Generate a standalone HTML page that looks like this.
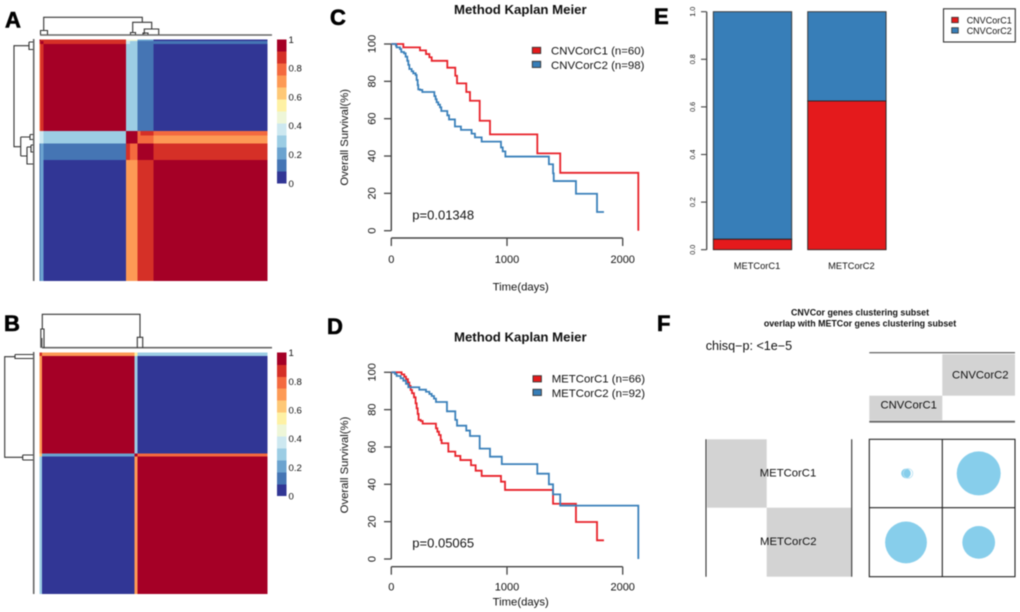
<!DOCTYPE html>
<html lang="en">
<head>
<meta charset="utf-8">
<title>Clustering and Kaplan Meier figure</title>
<style>
html,body{margin:0;padding:0;background:#fff;width:1020px;height:612px;overflow:hidden}
svg{display:block;font-family:"Liberation Sans",sans-serif;filter:blur(0.4px)}
text{fill:#111}
.panel{font-size:22px;font-weight:bold;fill:#000;stroke:#000;stroke-width:.6px}
.dend{fill:none;stroke:#333;stroke-width:1.1}
.base{fill:none;stroke:#666;stroke-width:1.6}
</style>
</head>
<body>
<svg id="fig" xmlns="http://www.w3.org/2000/svg" width="1020" height="612" viewBox="0 0 1020 612">
  <text class="panel" x="5" y="27.5">A</text>
  <text class="panel" x="4" y="331">B</text>
  <text class="panel" x="330" y="25">C</text>
  <text class="panel" x="327" y="334">D</text>
  <text class="panel" x="654" y="24">E</text>
  <text class="panel" x="657" y="331">F</text>

  <g id="heat-a"></g>
  <g id="heat-b"></g>
  <g id="bar-a"></g>
  <g id="bar-b"></g>

  <g>
    <path class="base" d="M40 35H272"/>
    <path class="dend" d="M43.7 31V17.3H142.3V22.3M132.7 33V22.3H151.7V29M144.3 34V29H158.7V34.5M40.5 34.5V30.5H47.5V34.5M130.5 34.5V32.5H135.5V34.5M143 34.5V33H148V34.5"/>
  </g>
  <g>
    <path class="base" d="M33.7 39V281"/>
    <path class="dend" d="M29 45.7H14V146.7H20.7M29 42V49.5H33M29 42H33M20.7 137V156M20.7 137H30M30 134.5V139.5H33M30 134.5H33M20.7 156H27M27 147V164H33M27 147H31M31 145V152H33M31 145H33"/>
  </g>
  <g>
    <path class="base" d="M42 347.7H272"/>
    <path class="dend" d="M42.3 329V314.3H140V337.3M40.8 347.7V329H44V347.7M137.3 347.7V337.3H142.7V347.7"/>
    <path d="M40.5 338H42.5V347.7H40.5Z" fill="#555"/>
  </g>
  <g>
    <path class="base" d="M33.7 352V594"/>
    <path class="dend" d="M15 356.7H4.7V457.3H22.7M15 354.5H33M15 354.5V358.5H33M22.7 455V460M22.7 455H33M22.7 460H33"/>
  </g>

  <g id="km-c"></g>
  <g id="km-d"></g>

  <text x="520.3" y="14" text-anchor="middle" font-size="13.2" font-weight="bold">Method Kaplan Meier</text>
  <text x="520.3" y="341.5" text-anchor="middle" font-size="13.2" font-weight="bold">Method Kaplan Meier</text>
  <text x="520.7" y="290.5" text-anchor="middle" font-size="11.3">Time(days)</text>
  <text x="520.7" y="605.5" text-anchor="middle" font-size="11.3">Time(days)</text>
  <text transform="translate(348 137.3) rotate(-90)" text-anchor="middle" font-size="11.3">Overall Survival(%)</text>
  <text transform="translate(348 465) rotate(-90)" text-anchor="middle" font-size="11.3">Overall Survival(%)</text>
  <text x="412.3" y="219.5" font-size="13">p=0.01348</text>
  <text x="412.3" y="547.5" font-size="13">p=0.05065</text>

  <g>
    <rect x="532.3" y="47.3" width="8.4" height="6.2" fill="#e41a1c" stroke="#333" stroke-width=".9"/>
    <rect x="532.3" y="61.3" width="8.4" height="6.2" fill="#377eb8" stroke="#333" stroke-width=".9"/>
    <text x="551" y="54.7" font-size="11.4">CNVCorC1 (n=60)</text>
    <text x="551" y="69" font-size="11.4">CNVCorC2 (n=98)</text>
  </g>
  <g>
    <rect x="533" y="375.7" width="8.4" height="6.2" fill="#e41a1c" stroke="#333" stroke-width=".9"/>
    <rect x="533" y="389.3" width="8.4" height="6.2" fill="#377eb8" stroke="#333" stroke-width=".9"/>
    <text x="551.7" y="382.5" font-size="11.4">METCorC1 (n=66)</text>
    <text x="551.7" y="396.8" font-size="11.4">METCorC2 (n=92)</text>
  </g>

  <g id="stack"></g>
  <g>
    <rect x="943.5" y="8.8" width="71.8" height="33.2" fill="#fff" stroke="#333" stroke-width="1.1"/>
    <rect x="951.7" y="17.3" width="6.6" height="5.4" fill="#e41a1c" stroke="#333" stroke-width=".8"/>
    <rect x="951.7" y="27.7" width="6.6" height="5.4" fill="#377eb8" stroke="#333" stroke-width=".8"/>
    <text x="966.7" y="23.5" font-size="9">CNVCorC1</text>
    <text x="966.7" y="34" font-size="9">CNVCorC2</text>
  </g>

  <text x="860" y="315.5" text-anchor="middle" font-size="8.9" font-weight="bold">CNVCor genes clustering subset</text>
  <text x="860" y="326.5" text-anchor="middle" font-size="8.9" font-weight="bold">overlap with METCor genes clustering subset</text>
  <text x="705.7" y="350" font-size="12.6">chisq−p: &lt;1e−5</text>

  <g>
    <rect x="942.3" y="354.3" width="72.7" height="41.4" fill="#d3d3d3"/>
    <rect x="869.3" y="395.7" width="73" height="24.5" fill="#d3d3d3"/>
    <path d="M869.3 352.7H1015" stroke="#555" stroke-width="1.1" fill="none"/>
    <path d="M869.3 421.7H1015" stroke="#666" stroke-width="1.8" fill="none"/>
    <text x="980.3" y="378.3" text-anchor="middle" font-size="11.3">CNVCorC2</text>
    <text x="908.7" y="408.7" text-anchor="middle" font-size="11.3">CNVCorC1</text>
  </g>
  <g>
    <rect x="707" y="439.3" width="59.7" height="68.4" fill="#d3d3d3"/>
    <rect x="766.7" y="507.7" width="84.5" height="69" fill="#d3d3d3"/>
    <path d="M706 439.3V576.7" stroke="#333" stroke-width="1.1" fill="none"/>
    <path d="M851.7 439.3V576.7" stroke="#333" stroke-width="1.1" fill="none"/>
    <text x="788" y="476.3" text-anchor="middle" font-size="11.3">METCorC1</text>
    <text x="788.3" y="545" text-anchor="middle" font-size="11.3">METCorC2</text>
  </g>
  <g id="overlap"></g>
</svg>
<script>
// ---------- data ----------
var palette = ['#313695','#4575b4','#6ba3cf','#9ccde4','#cde8f0','#eef6d8','#fef1a4','#fec876','#fd9a55','#f46a3f','#d53027','#a50026'];
var colorbarLabels = ['0','0.2','0.4','0.6','0.8','1'];

var heatAGroups = [1,2,57,3,5,2,9,79];
var heatAValues = [
  [.96,.88,.88,.45,.42,.22,.22,.04],
  [.88,.96,.88,.38,.30,.13,.13,.13],
  [.80,.88,.96,.30,.30,.13,.13,.04],
  [.38,.38,.30,.96,.96,.80,.88,.78],
  [.40,.34,.30,.96,.96,.80,.80,.70],
  [.13,.22,.13,.88,.80,.96,.96,.88],
  [.13,.22,.13,.88,.80,.96,.96,.88],
  [.13,.22,.04,.70,.70,.88,.88,.96]
];
var heatBGroups = [2,64,2,90];
var heatBValues = [
  [.88,.70,.55,.30],
  [.70,.96,.25,.04],
  [.60,.20,.92,.78],
  [.30,.04,.70,.96]
];

var kmXTicks = [0,1000,2000];
var kmYTicks = [0,20,40,60,80,100];

var cSeries1Days = [0,104,248,300,329,349,484,553,568,648,680,764,853,1262,1460,2135];
var cSeries1Surv = [100,98.2,96.6,94.6,92.9,91,87.3,83,78.9,74.3,69.6,58.9,51.6,41.4,31,0];
var cSeries2Days = [0,40,46,75,86,110,124,138,147,156,176,190,210,219,228,233,248,268,372,383,392,406,421,432,484,499,550,602,694,723,781,948,963,986,1362,1398,1404,1596,1778,1838];
var cSeries2Surv = [100,99.1,98.2,97.3,95.7,95,93.2,91,88.8,86.6,85.4,84.3,83.4,80.7,78,75.7,75.4,74.3,72.1,70.4,68.8,67.5,66.1,64.1,61.8,59.6,55.8,54,52,50,47.7,44.6,42.5,39.7,35.6,30.7,26.6,19.8,10,10];

var dSeries1Days = [0,89,112,127,144,156,167,179,196,210,219,228,236,254,271,386,398,412,427,435,493,553,597,689,729,781,948,983,1398,1596,1778,1838];
var dSeries1Surv = [100,98.9,97.7,96.3,94.5,92.7,90.5,88.8,86.6,83.4,80.7,77.7,74.5,73.9,72.5,70,68.2,66.4,63.7,62,57.5,55.2,53,50.2,47.3,44.5,41.4,37,29.6,19.8,10,10];
var dSeries2Days = [0,32,46,81,104,127,147,242,300,329,349,369,386,481,553,568,648,680,764,853,955,1262,1362,1398,1460,2135];
var dSeries2Surv = [100,99.1,98,96.8,95.5,93.8,92,90.7,89.6,88.4,87.3,85.9,84.1,79.1,74.5,71.4,68.8,65.9,59.1,54.8,50.8,45.7,40,34.6,28.6,0];

var stackCategories = ['METCorC1','METCorC2'];
var stackRedFraction = [0.044,0.625];
var stackTicks = ['0.0','0.2','0.4','0.6','0.8','1.0'];

// rows METCorC1, METCorC2; columns CNVCorC1, CNVCorC2
var overlapCounts = [[3,63],[57,35]];

// ---------- helpers ----------
var NS = 'http://www.w3.org/2000/svg';
function add(parent, tag, attrs, txt) {
  var el = document.createElementNS(NS, tag);
  for (var k in attrs) el.setAttribute(k, attrs[k]);
  if (txt !== undefined) el.textContent = txt;
  parent.appendChild(el);
  return el;
}
function cumulative(a) {
  var out = [0];
  a.forEach(function (v) { out.push(out[out.length - 1] + v); });
  return out;
}
function levelColor(v) {
  return palette[Math.min(palette.length - 1, Math.floor(v * palette.length))];
}

// ---------- heatmaps ----------
function drawHeat(id, groups, values, x0, x1, y0, y1) {
  var g = document.getElementById(id);
  var c = cumulative(groups), n = c[c.length - 1];
  var sx = function (s) { return x0 + s / n * (x1 - x0); };
  var sy = function (s) { return y0 + s / n * (y1 - y0); };
  for (var r = 0; r < groups.length; r++) {
    for (var q = 0; q < groups.length; q++) {
      var cell = add(g, 'rect', {
        x: sx(c[q]), y: sy(c[r]),
        width: sx(c[q + 1]) - sx(c[q]) + .2,
        height: sy(c[r + 1]) - sy(c[r]) + .2,
        fill: levelColor(values[r][q]),
        'shape-rendering': 'crispEdges'
      });
      
      
    }
  }
}
drawHeat('heat-a', heatAGroups, heatAValues, 39.3, 267.3, 39.3, 281);
drawHeat('heat-b', heatBGroups, heatBValues, 39.3, 267.3, 352.7, 594);

function drawColorbar(id, x, y0, y1) {
  var g = document.getElementById(id);
  var h = (y1 - y0) / palette.length;
  palette.forEach(function (col, i) {
    var seg = add(g, 'rect', {x: x, y: y1 - (i + 1) * h, width: 9.4, height: h + .2, fill: col, 'shape-rendering': 'crispEdges'});
    
    
  });
  colorbarLabels.forEach(function (lab, i) {
    var y = y1 - i / (colorbarLabels.length - 1) * (y1 - y0);
    var t = add(g, 'text', {x: x + 11.5, y: y + 3.5, 'font-size': 9.6}, lab);
    
    
  });
}
drawColorbar('bar-a', 277, 39.3, 183.3);
drawColorbar('bar-b', 277, 352.7, 496);

// ---------- Kaplan Meier ----------
var kmX = function (d) { return 391.3 + d * 0.1157; };
function stepPath(days, surv, yFn) {
  var p = 'M' + kmX(days[0]) + ' ' + yFn(surv[0]);
  for (var i = 1; i < days.length; i++) {
    p += 'H' + kmX(days[i]) + 'V' + yFn(surv[i]);
  }
  return p;
}
function drawKM(id, zeroY, axisY, labelY, s1d, s1s, s2d, s2s) {
  var g = document.getElementById(id);
  var y = function (v) { return zeroY - v * 1.867; };
  var yAxis = add(g, 'path', {d: 'M' + kmX(0) + ' ' + y(0) + 'V' + y(100), stroke: '#444', 'stroke-width': 1.4, fill: 'none'});
  
  
  var xAxis = add(g, 'path', {d: 'M' + kmX(0) + ' ' + axisY + 'H' + kmX(2000), stroke: '#444', 'stroke-width': 1.4, fill: 'none'});
  
  
  kmYTicks.forEach(function (v) {
    var tick = add(g, 'path', {d: 'M384 ' + y(v) + 'H' + kmX(0), stroke: '#444', 'stroke-width': 1.3});
    
    
    var lab = add(g, 'text', {transform: 'translate(375.5 ' + y(v) + ') rotate(-90)', 'text-anchor': 'middle', 'font-size': 11}, String(v));
    
    
  });
  kmXTicks.forEach(function (v) {
    var tick = add(g, 'path', {d: 'M' + kmX(v) + ' ' + axisY + 'V' + (axisY + 8), stroke: '#444', 'stroke-width': 1.3});
    
    
    var lab = add(g, 'text', {x: kmX(v), y: labelY, 'text-anchor': 'middle', 'font-size': 11}, String(v));
    
    
  });
  var first = add(g, 'path', {d: stepPath(s1d, s1s, y), fill: 'none', stroke: '#e8222a', 'stroke-width': 1.8});
  
  
  var second = add(g, 'path', {d: stepPath(s2d, s2s, y), fill: 'none', stroke: '#3a80ba', 'stroke-width': 1.8});
  
  
}
drawKM('km-c', 230.7, 238, 263, cSeries1Days, cSeries1Surv, cSeries2Days, cSeries2Surv);
drawKM('km-d', 559, 566.7, 590.7, dSeries1Days, dSeries1Surv, dSeries2Days, dSeries2Surv);

// ---------- stacked bars ----------
(function () {
  var g = document.getElementById('stack');
  var y = function (v) { return 249.7 - v * 238; };
  var xs = function (i) { return 713.3 + i * 94.4; };
  var barW = 78.4;
  var axis = add(g, 'path', {d: 'M706.7 ' + y(0) + 'V' + y(1), stroke: '#444', 'stroke-width': 1.3, fill: 'none'});
  
  
  stackTicks.forEach(function (lab) {
    var v = parseFloat(lab);
    var tick = add(g, 'path', {d: 'M701 ' + y(v) + 'H706.7', stroke: '#444', 'stroke-width': 1.1});
    
    
    var t = add(g, 'text', {transform: 'translate(695 ' + y(v) + ') rotate(-90)', 'text-anchor': 'middle', 'font-size': 7.2}, lab);
    
    
  });
  stackCategories.forEach(function (name, i) {
    var blue = add(g, 'rect', {x: xs(i), y: y(1), width: barW, height: y(stackRedFraction[i]) - y(1), fill: '#377eb8', stroke: '#333', 'stroke-width': .9});
    
    
    var red = add(g, 'rect', {x: xs(i), y: y(stackRedFraction[i]), width: barW, height: y(0) - y(stackRedFraction[i]), fill: '#e41a1c', stroke: '#222', 'stroke-width': .9});
    
    
    var lab = add(g, 'text', {x: xs(i) + barW / 2 + 4.5, y: 269, 'text-anchor': 'middle', 'font-size': 9.3}, name);
    
    
  });
})();

// ---------- overlap balloons ----------
(function () {
  var g = document.getElementById('overlap');
  var cx = function (q) { return 906 + q * 72.7; };
  var cy = function (r) { return 473.4 + r * 69; };
  var rad = function (n) { return Math.sqrt(n) * 2.77; };
  var frame = add(g, 'rect', {x: 869.3, y: 439.3, width: 145.7, height: 137.4, fill: 'none', stroke: '#222', 'stroke-width': 1.1});
  
  
  overlapCounts.forEach(function (row, r) {
    row.forEach(function (n, q) {
      var c = add(g, 'circle', {cx: cx(q), cy: cy(r), r: rad(n), fill: '#87ceeb'});
      
      
    });
  });
  var ring = add(g, 'circle', {cx: cx(0) + 2, cy: cy(0), r: rad(overlapCounts[0][0]), fill: 'none', stroke: '#b5e0f2', 'stroke-width': .8});
  
  
  var grid = add(g, 'path', {d: 'M942.3 439.3V576.7M869.3 507.7H1015', stroke: '#222', 'stroke-width': 1.1, fill: 'none'});
  
  
})();
</script>
</body>
</html>
